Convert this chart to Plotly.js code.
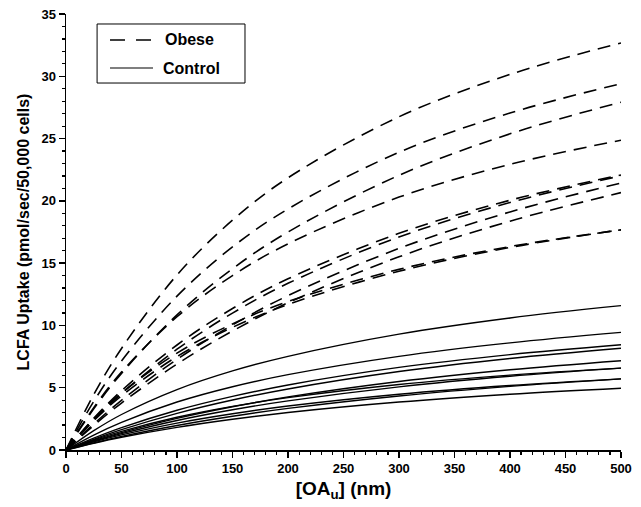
<!DOCTYPE html>
<html><head><meta charset="utf-8">
<script src="https://cdn.plot.ly/plotly-3.0.1.min.js"></script>
<style>html,body{margin:0;padding:0;background:#fff}#chart{width:641px;height:507px}</style>
</head><body><div id="chart"></div>
<script>
// [OAu] (nm) sample points
const oaU = [0, 25, 50, 100, 150, 200, 300, 400, 500];

// Obese curves (LCFA uptake, pmol/sec/50,000 cells)
const obeseA = [0, 4.45, 8.15, 14.05, 18.45, 21.85, 26.75, 30.15, 32.68];
const obeseB = [0, 3.90, 7.15, 12.35, 16.30, 19.35, 23.90, 27.05, 29.41];
const obeseC = [0, 3.30, 6.15, 10.85, 14.55, 17.50, 22.05, 25.38, 27.92];
const obeseD = [0, 3.40, 6.25, 10.70, 14.00, 16.55, 20.30, 22.93, 24.87];
const obeseE1 = [0, 2.40, 4.52, 8.09, 10.99, 13.38, 17.10, 19.87, 22.01];
const obeseE2 = [0, 2.54, 4.76, 8.43, 11.36, 13.74, 17.39, 20.05, 22.08];
const obeseF = [0, 2.09, 3.99, 7.28, 10.04, 12.39, 16.18, 19.11, 21.43];
const obeseG = [0, 1.97, 3.77, 6.90, 9.55, 11.82, 15.51, 18.37, 20.66];
const obeseH1 = [0, 2.35, 4.35, 7.50, 9.85, 11.68, 14.35, 16.26, 17.68];
const obeseH2 = [0, 2.50, 4.58, 7.78, 10.12, 11.92, 14.50, 16.33, 17.67];

// Control curves
const control1 = [0, 1.55, 2.85, 4.85, 6.35, 7.52, 9.30, 10.60, 11.59];
const control2 = [0, 1.20, 2.22, 3.85, 5.08, 6.05, 7.52, 8.60, 9.44];
const control3 = [0, 0.95, 1.79, 3.19, 4.30, 5.22, 6.63, 7.66, 8.45];
const control4 = [0, 0.86, 1.63, 2.94, 4.01, 4.90, 6.30, 7.35, 8.17];
const control5 = [0, 0.74, 1.40, 2.54, 3.47, 4.26, 5.50, 6.44, 7.17];
const control6 = [0, 0.70, 1.31, 2.37, 3.23, 3.94, 5.07, 5.92, 6.57];
const control7 = [0, 0.81, 1.50, 2.63, 3.50, 4.20, 5.26, 6.01, 6.57];
const control8 = [0, 0.57, 1.09, 1.97, 2.71, 3.34, 4.34, 5.11, 5.71];
const control9 = [0, 0.65, 1.21, 2.16, 2.91, 3.53, 4.48, 5.18, 5.71];
const control10 = [0, 0.54, 1.02, 1.82, 2.47, 3.01, 3.85, 4.48, 4.96];

const legendLabels = ['Obese', 'Control'];

const obeseSeries = [obeseA, obeseB, obeseC, obeseD, obeseE1, obeseE2, obeseF, obeseG, obeseH1, obeseH2];
const controlSeries = [control1, control2, control3, control4, control5, control6, control7, control8, control9, control10];

const font = {family: 'Liberation Sans, Arial, sans-serif', color: '#000', weight: 'bold'};
const dashStyle = '13px,8px';
const traces = [];
obeseSeries.forEach((ys) => traces.push({
  x: oaU, y: ys, type: 'scatter', mode: 'lines', name: legendLabels[0], showlegend: false,
  line: {color: '#000', width: 1.6, dash: dashStyle, shape: 'spline', smoothing: 1}
}));
controlSeries.forEach((ys) => traces.push({
  x: oaU, y: ys, type: 'scatter', mode: 'lines', name: legendLabels[1], showlegend: false,
  line: {color: '#000', width: 1.4, shape: 'spline', smoothing: 1}
}));

// custom legend box (paper coordinates)
const shapes = [
  {type: 'rect', xref: 'paper', yref: 'paper', x0: 0.056, x1: 0.3225, y0: 0.8417, y1: 0.9771,
   line: {color: '#000', width: 1}, fillcolor: '#fff', layer: 'above'},
  {type: 'line', xref: 'paper', yref: 'paper', x0: 0.0793, x1: 0.1568, y0: 0.9404, y1: 0.9404,
   line: {color: '#000', width: 1.4, dash: '15px,11px'}, layer: 'above'},
  {type: 'line', xref: 'paper', yref: 'paper', x0: 0.0793, x1: 0.1568, y0: 0.8761, y1: 0.8761,
   line: {color: '#000', width: 1.2}, layer: 'above'}
];
const annotations = [
  {xref: 'paper', yref: 'paper', x: 0.1748, y: 0.9404, xanchor: 'left', yanchor: 'middle',
   text: legendLabels[0], showarrow: false, font: Object.assign({size: 16}, font)},
  {xref: 'paper', yref: 'paper', x: 0.1712, y: 0.8761, xanchor: 'left', yanchor: 'middle',
   text: legendLabels[1], showarrow: false, font: Object.assign({size: 16}, font)}
];

const layout = {
  width: 641, height: 507,
  margin: {l: 66, r: 20, t: 14, b: 57},
  paper_bgcolor: '#fff', plot_bgcolor: '#fff',
  font: Object.assign({size: 12}, font),
  showlegend: false,
  shapes: shapes, annotations: annotations,
  xaxis: {range: [0, 500], tickvals: [0,50,100,150,200,250,300,350,400,450,500],
    ticks: 'outside', ticklen: 6, tickwidth: 1.5, tickcolor: '#000',
    showline: true, linecolor: '#000', linewidth: 1.5, showgrid: false, zeroline: false,
    minor: {dtick: 10, ticks: 'outside', ticklen: 3, tickwidth: 1.2, tickcolor: '#000', showgrid: false},
    tickfont: Object.assign({size: 13}, font),
    title: {text: '[OA<sub>u</sub>] (nm)', font: Object.assign({size: 19}, font), standoff: 6}},
  yaxis: {range: [0, 35], tickvals: [0,5,10,15,20,25,30,35],
    ticks: 'outside', ticklen: 6, tickwidth: 1.5, tickcolor: '#000',
    showline: true, linecolor: '#000', linewidth: 1.5, showgrid: false, zeroline: false,
    minor: {dtick: 1, ticks: 'outside', ticklen: 3, tickwidth: 1.2, tickcolor: '#000', showgrid: false},
    tickfont: Object.assign({size: 13}, font),
    title: {text: 'LCFA Uptake (pmol/sec/50,000 cells)', font: Object.assign({size: 16}, font), standoff: 8}}
};
Plotly.newPlot('chart', traces, layout, {displayModeBar: false, staticPlot: true});
</script></body></html>
